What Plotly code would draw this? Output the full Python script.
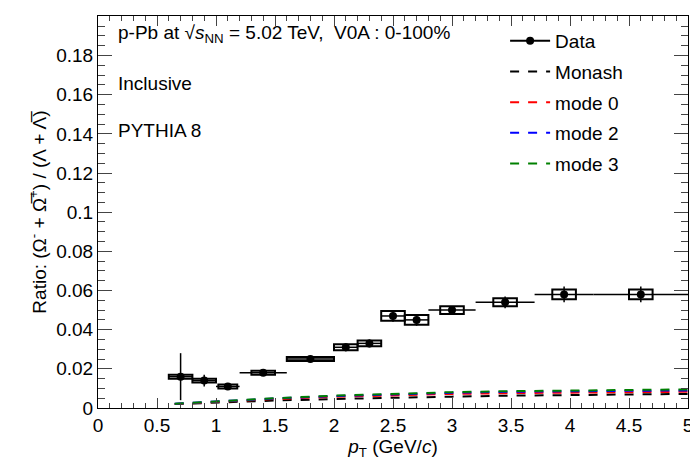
import plotly.graph_objects as go

# Data points
pt = [0.7, 0.9, 1.1, 1.4, 1.8, 2.1, 2.3, 2.5, 2.7, 3.0, 3.45, 3.95, 4.6, 5.5]
ratio = [0.016, 0.014, 0.011, 0.018, 0.025, 0.031, 0.033, 0.047, 0.045, 0.050, 0.054, 0.058, 0.058, 0.059]
pt_lo = [0.6, 0.8, 1.0, 1.2, 1.6, 2.0, 2.2, 2.4, 2.6, 2.8, 3.2, 3.7, 4.2, 5.0]
pt_hi = [0.8, 1.0, 1.2, 1.6, 2.0, 2.2, 2.4, 2.6, 2.8, 3.2, 3.7, 4.2, 5.0, 6.0]
stat = [0.012, 0.003, 0.001, 0.001, 0.001, 0.002, 0.002, 0.003, 0.003, 0.002, 0.003, 0.004, 0.004, 0.004]
syst = [0.001, 0.001, 0.001, 0.001, 0.001, 0.0015, 0.0015, 0.0025, 0.0025, 0.002, 0.002, 0.0025, 0.0025, 0.0025]
box_hw = [0.1, 0.1, 0.08, 0.1, 0.2, 0.1, 0.1, 0.1, 0.1, 0.1, 0.1, 0.1, 0.1, 0.1]

# PYTHIA 8 curves
mc_pt = [0.65, 1.0, 1.5, 2.0, 2.5, 3.0, 3.5, 4.0, 4.5, 5.0]
monash = [0.0020, 0.0028, 0.0038, 0.0046, 0.0053, 0.0058, 0.0063, 0.0066, 0.0069, 0.0072]
mode0 = [0.0020, 0.0032, 0.0046, 0.0057, 0.0066, 0.0072, 0.0076, 0.0079, 0.0081, 0.0083]
mode2 = [0.0022, 0.0034, 0.0049, 0.0061, 0.0071, 0.0078, 0.0083, 0.0086, 0.0088, 0.0090]
mode3 = [0.0022, 0.0034, 0.0050, 0.0063, 0.0073, 0.0081, 0.0086, 0.0090, 0.0093, 0.0095]

fig = go.Figure()

fig.add_trace(go.Scatter(
    x=pt, y=ratio, mode="markers", name="Data", showlegend=False,
    marker=dict(color="black", size=8),
    error_y=dict(type="data", array=stat, color="black", thickness=1.5, width=0),
    error_x=dict(type="data", array=[h - p for p, h in zip(pt, pt_hi)],
                 arrayminus=[p - l for p, l in zip(pt, pt_lo)],
                 color="black", thickness=1.5, width=0),
))
# legend entry for data (marker with line)
fig.add_trace(go.Scatter(x=[None], y=[None], mode="lines+markers", name="Data",
                         marker=dict(color="black", size=8), line=dict(color="black", width=2)))

for name, vals, col in [("Monash", monash, "black"), ("mode 0", mode0, "red"),
                        ("mode 2", mode2, "blue"), ("mode 3", mode3, "green")]:
    fig.add_trace(go.Scatter(x=mc_pt, y=vals, mode="lines", name=name,
                             line=dict(color=col, width=2, dash="dash")))

# systematic boxes
for p, r, s, w in zip(pt, ratio, syst, box_hw):
    if p > 5:
        continue
    fig.add_shape(type="rect", xref="x", yref="y", x0=p - w, x1=p + w,
                  y0=r - s, y1=r + s, line=dict(color="black", width=2))

fig.update_layout(
    width=698, height=471,
    margin=dict(l=90, r=18, t=8, b=71),
    plot_bgcolor="white", paper_bgcolor="white",
    font=dict(family="Liberation Sans, Arial", size=19, color="black"),
    showlegend=True,
    legend=dict(x=0.69, y=0.985, xanchor="left", yanchor="top", bgcolor="rgba(0,0,0,0)",
                font=dict(size=19), tracegroupgap=3, itemwidth=40),
    xaxis=dict(range=[0, 5], dtick=0.5, ticks="inside", ticklen=10, mirror="ticks",
               showline=True, linecolor="black", linewidth=1, showgrid=False, zeroline=False,
               minor=dict(ticks="inside", ticklen=5, dtick=0.1),
               title=dict(text="<i>p</i><sub>T</sub> (GeV/<i>c</i>)", font=dict(size=19)),
               tickfont=dict(size=19)),
    yaxis=dict(range=[0, 0.2002], dtick=0.02, ticks="inside", ticklen=14, mirror="ticks",
               showline=True, linecolor="black", linewidth=1, showgrid=False, zeroline=False,
               minor=dict(ticks="inside", ticklen=7, dtick=0.005),
               tickformat="~g",
               title=dict(text="Ratio: (Ω<sup>-</sup> + Ω̅<sup>+</sup>) / (Λ + Λ̅)",
                          font=dict(size=19), standoff=4),
               tickfont=dict(size=19)),
)
for i, tr in enumerate(fig.data):
    tr.legendgroup = str(i)

fig.update_xaxes(title_standoff=2)
fig.add_annotation(xref="paper", yref="paper", x=0.03, y=0.99, xanchor="left", yanchor="top",
                   showarrow=False, text="p-Pb at √<i>s</i><sub>NN</sub> = 5.02 TeV,  V0A : 0-100%")
fig.add_annotation(xref="paper", yref="paper", x=0.03, y=0.86, xanchor="left", yanchor="top",
                   showarrow=False, text="Inclusive")
fig.add_annotation(xref="paper", yref="paper", x=0.03, y=0.74, xanchor="left", yanchor="top",
                   showarrow=False, text="PYTHIA 8")

fig.write_html("out.html")
